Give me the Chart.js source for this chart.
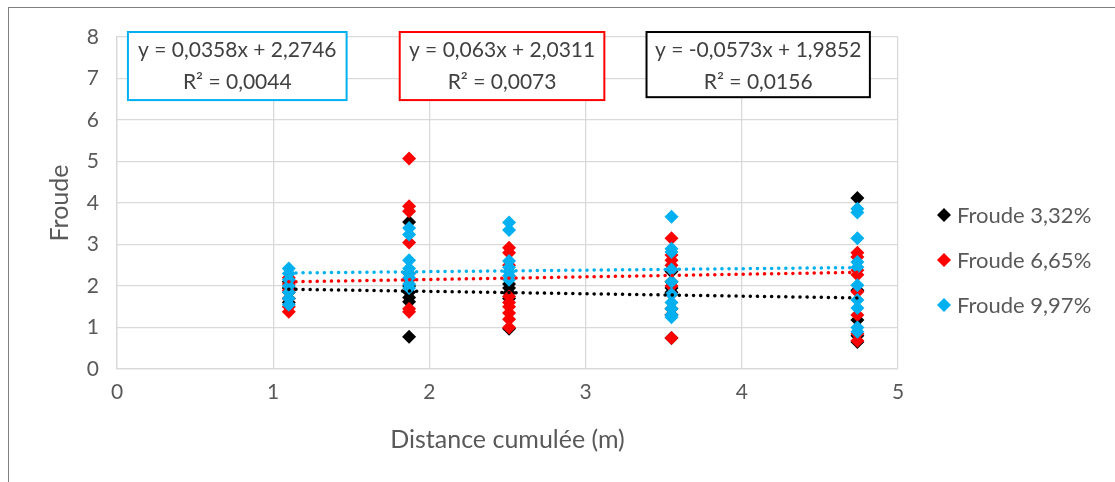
<!DOCTYPE html>
<html>
<head>
<meta charset="utf-8">
<script src="https://cdn.jsdelivr.net/npm/chart.js@4.4.1/dist/chart.umd.min.js"></script>
<style>
  html, body { margin: 0; padding: 0; background: #fff; }
  #wrap { position: relative; width: 1115px; height: 482px; }
  #frame { position: absolute; left: 8px; top: 7px; width: 1120px; height: 490px;
           border-left: 1px solid #7f7f7f; border-top: 1px solid #7f7f7f; }
  canvas { position: absolute; left: 0; top: 0; }
</style>
</head>
<body>
<div id="wrap">
  <div id="frame"></div>
  <canvas id="myChart" width="1115" height="482"></canvas>
</div>
<script>
// Distances where measurements were taken (m)
const distances = [1.1, 1.87, 2.51, 3.55, 4.74];

// Froude values per distance, one array per slope
const froude332 = [
    [2.1, 1.95, 1.85, 1.7, 1.6],
    [3.54, 2.0, 1.85, 1.72, 1.62, 0.78],
    [2.05, 1.95, 1.83, 1.7, 0.97],
    [2.35, 2.1, 1.95, 1.85, 1.45, 1.3, 0.75],
    [4.12, 1.9, 1.18, 0.8, 0.65]
];
const froude665 = [
    [2.2, 2.05, 1.9, 1.7, 1.5, 1.38],
    [5.07, 3.92, 3.8, 3.05, 2.3, 2.15, 1.45, 1.38],
    [2.92, 2.8, 2.5, 1.75, 1.6, 1.5, 1.35, 1.2, 1.0],
    [3.15, 2.75, 2.62, 2.5, 2.4, 2.0, 1.8, 1.3, 0.75],
    [6.74, 2.8, 2.7, 2.38, 2.27, 1.86, 1.3, 0.85, 0.68]
];
const froude997 = [
    [2.42, 2.3, 2.15, 2.0, 1.85, 1.7, 1.55],
    [3.4, 3.24, 2.62, 2.42, 2.3, 2.2, 2.05, 1.95],
    [3.53, 3.35, 2.6, 2.45, 2.35, 2.25, 2.15],
    [3.67, 2.9, 2.82, 2.4, 2.1, 1.8, 1.6, 1.45, 1.3, 1.25],
    [3.86, 3.77, 3.15, 2.58, 2.45, 2.02, 1.66, 1.47, 1.0, 0.9]
];

// Excel trendline equations (linear)
const seriesNames = ['Froude 3,32%', 'Froude 6,65%', 'Froude 9,97%'];
const seriesColors = ['#000000', '#FF0000', '#00B0F0'];
const slopes = [-0.0573, 0.063, 0.0358];
const intercepts = [1.9852, 2.0311, 2.2746];
const equations = ['y = -0,0573x + 1,9852', 'y = 0,063x + 2,0311', 'y = 0,0358x + 2,2746'];
const r2Labels = ['R² = 0,0156', 'R² = 0,0073', 'R² = 0,0044'];

// Ticks
const xTicks = [0, 1, 2, 3, 4, 5];
const yTicks = [0, 1, 2, 3, 4, 5, 6, 7, 8];

const FONT = 'Lato, "Open Sans", sans-serif';
const TEXT = '#595959';

function toPoints(groups) {
    let pts = [];
    groups.forEach((vals, i) => {
        vals.forEach(v => pts.push({ x: distances[i], y: v }));
    });
    return pts;
}

function trendPoints(k) {
    const x0 = Math.min(...distances);
    const x1 = Math.max(...distances);
    return [
        { x: x0, y: slopes[k] * x0 + intercepts[k] },
        { x: x1, y: slopes[k] * x1 + intercepts[k] }
    ];
}

const allSeries = [froude332, froude665, froude997];

let datasets = [];
// 1. Scatter series (blue on top of red on top of black)
allSeries.forEach((s, k) => {
    datasets.push({
        type: 'scatter',
        label: seriesNames[k],
        data: toPoints(s),
        backgroundColor: seriesColors[k],
        borderColor: seriesColors[k],
        borderWidth: 0,
        pointStyle: 'rectRot',
        pointRadius: 7,
        order: 10 - k
    });
});
// 2. Dotted trendlines, drawn over the markers
allSeries.forEach((s, k) => {
    datasets.push({
        type: 'line',
        label: 'trend' + k,
        data: trendPoints(k),
        borderColor: seriesColors[k],
        borderWidth: 3.5,
        borderDash: [0.1, 7],
        borderCapStyle: 'round',
        pointRadius: 0,
        fill: false,
        order: 3 - k
    });
});

// Equation boxes: [xFrom, xTo, yTop, yBottom] in data units
const boxColors = ['#000000', '#FF0000', '#00B0F0'];
const boxX0 = [3.39, 1.81, 0.07];
const boxX1 = [4.82, 3.12, 1.47];
const boxYTop = [8.12, 8.12, 8.12];
const boxYBot = [6.55, 6.48, 6.48];

const equationBoxes = {
    id: 'equationBoxes',
    afterDatasetsDraw: (chart) => {
        const { ctx, scales } = chart;
        const xs = scales.x, ys = scales.y;
        ctx.save();
        for (let k = 0; k < 3; k++) {
            const l = xs.getPixelForValue(boxX0[k]);
            const r = xs.getPixelForValue(boxX1[k]);
            const t = ys.getPixelForValue(boxYTop[k]);
            const b = ys.getPixelForValue(boxYBot[k]);
            ctx.fillStyle = '#fff';
            ctx.fillRect(l, t, r - l, b - t);
            ctx.strokeStyle = boxColors[k];
            ctx.lineWidth = 2;
            ctx.strokeRect(l, t, r - l, b - t);
            ctx.fillStyle = '#404040';
            ctx.font = '21px ' + FONT;
            ctx.textAlign = 'center';
            ctx.textBaseline = 'middle';
            const cx = (l + r) / 2;
            ctx.fillText(equations[k], cx, t + 18);
            ctx.fillText(r2Labels[k], cx, t + 50);
        }
        ctx.restore();
    }
};

// Legend on the right, drawn by hand
const sideLegend = {
    id: 'sideLegend',
    afterDraw: (chart) => {
        const { ctx, chartArea } = chart;
        ctx.save();
        ctx.font = '22px ' + FONT;
        ctx.textBaseline = 'middle';
        ctx.textAlign = 'left';
        seriesNames.forEach((name, k) => {
            const y = chartArea.top + 178 + k * 45;
            const x = chartArea.right + 46;
            ctx.fillStyle = seriesColors[k];
            ctx.beginPath();
            ctx.moveTo(x, y - 7);
            ctx.lineTo(x + 7, y);
            ctx.lineTo(x, y + 7);
            ctx.lineTo(x - 7, y);
            ctx.closePath();
            ctx.fill();
            ctx.fillStyle = TEXT;
            ctx.fillText(name, x + 13, y + 1);
        });
        ctx.restore();
    }
};

const ctx = document.getElementById('myChart').getContext('2d');
new Chart(ctx, {
    data: { datasets: datasets },
    options: {
        responsive: false,
        animation: false,
        layout: { padding: { left: 0, top: 37, right: 217, bottom: 0 } },
        plugins: {
            legend: { display: false },
            tooltip: { enabled: false }
        },
        scales: {
            x: {
                type: 'linear',
                min: 0, max: 5,
                afterBuildTicks: (axis) => { axis.ticks = xTicks.map(v => ({ value: v })); },
                afterFit: (axis) => { axis.height = 113; },
                grid: { color: '#D9D9D9', lineWidth: 1.3, drawTicks: false },
                border: { color: '#D9D9D9', width: 1.3 },
                ticks: { color: TEXT, font: { family: FONT, size: 21 }, padding: 11 },
                title: { display: true, text: 'Distance cumulée (m)', color: TEXT,
                         font: { family: FONT, size: 25 }, padding: { bottom: 27 } }
            },
            y: {
                min: 0, max: 8,
                afterBuildTicks: (axis) => { axis.ticks = yTicks.map(v => ({ value: v })); },
                afterFit: (axis) => { axis.width = 117; },
                grid: { color: '#D9D9D9', lineWidth: 1.3, drawTicks: false },
                border: { color: '#D9D9D9', width: 1.3 },
                ticks: { color: TEXT, font: { family: FONT, size: 21 }, padding: 18 },
                title: { display: true, text: 'Froude', color: TEXT,
                         font: { family: FONT, size: 25 }, padding: { top: 45 } }
            }
        }
    },
    plugins: [equationBoxes, sideLegend]
});
</script>
</body>
</html>
